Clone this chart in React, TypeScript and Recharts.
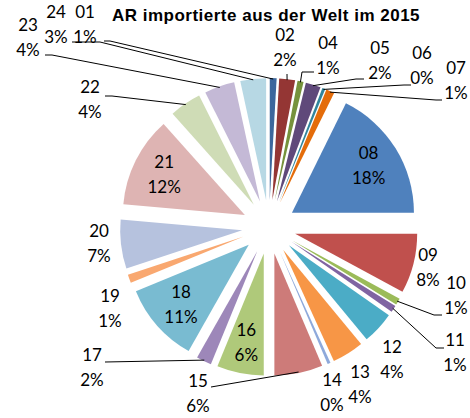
import React from 'react';
import { PieChart, Pie, Cell, Sector, Tooltip } from 'recharts';

const title = 'AR importierte aus der Welt im 2015';
const categories = ['01', '02', '04', '05', '06', '07', '08', '09', '10', '11', '12', '13', '14', '15', '16', '17', '18', '19', '20', '21', '22', '23', '24'];
const shares = [0.9, 2.1, 0.8, 2.0, 0.4, 1.1, 17.7, 7.9, 0.9, 0.9, 4.3, 4.2, 0.4, 6.4, 6.2, 2.0, 10.6, 1.1, 6.5, 12.0, 4.2, 4.0, 3.4];

const COLORS = [
  '#3C679D', '#943634', '#76923C', '#5F497A', '#31859C', '#E46C0A',
  '#4F81BD', '#C0504D', '#9BBB59', '#8064A2', '#4BACC6', '#F79646',
  '#8EA9DB', '#CD7B79', '#AFC97A', '#9D87B9', '#79BBD1', '#F9A870',
  '#B6C2DE', '#DEB4B3', '#CFDCB6', '#C4B9D6', '#B7D8E4',
];

const data = categories.map((name, i) => ({ name, value: shares[i] }));

const CX = 269;
const CY = 227;
const R = 122;
const EXPLODE = 27;
const RAD = Math.PI / 180;
const FONT = 'Lato, "Open Sans", sans-serif';

const INSIDE = new Set(['08', '16', '18', '21']);

// label block positions (center of first line) for labels placed outside the slices
const LABEL_POS: Record<string, [number, number]> = {
  '01': [85, 12], '24': [56, 12], '23': [28, 25], '22': [90, 87],
  '02': [285, 35], '04': [328, 43], '05': [380, 48], '06': [422, 53], '07': [456, 68],
  '09': [428, 255], '10': [456, 283], '11': [455, 340], '12': [392, 347], '13': [360, 372],
  '14': [332, 380], '15': [198, 381], '17': [92, 355], '19': [110, 296], '20': [99, 231],
};

// leader line points on the label side; the line ends on the slice edge
const LEADERS: Record<string, [number, number][]> = {
  '24': [[72, 42], [100, 42]],
  '01': [[104, 41], [110, 41]],
  '23': [[45, 55], [52, 55]],
  '22': [[105, 96], [112, 96]],
  '02': [[287, 74]],
  '04': [[314, 72], [302, 72]],
  '05': [[364, 79], [356, 79]],
  '06': [[411, 85], [404, 85]],
  '07': [[442, 100], [436, 100]],
  '10': [[442, 315], [434, 315]],
  '11': [[444, 348], [436, 348]],
  '15': [[211, 387]],
  '17': [[105, 362]],
};

const ExplodedSector = (props: any) => {
  const { cx, cy, midAngle, innerRadius, outerRadius, startAngle, endAngle, fill } = props;
  const ox = cx + EXPLODE * Math.cos(-midAngle * RAD);
  const oy = cy + EXPLODE * Math.sin(-midAngle * RAD);
  return (
    <Sector
      cx={ox}
      cy={oy}
      innerRadius={innerRadius}
      outerRadius={outerRadius}
      startAngle={startAngle}
      endAngle={endAngle}
      fill={fill}
      stroke="none"
    />
  );
};

const renderLabel = (p: any) => {
  const { cx, cy, midAngle, outerRadius, percent } = p;
  const name: string = p.payload?.name ?? p.name;
  const pct = `${Math.round(percent * 100)}%`;
  const ux = Math.cos(-midAngle * RAD);
  const uy = Math.sin(-midAngle * RAD);
  let lx: number;
  let ly: number;
  if (INSIDE.has(name)) {
    const rr = EXPLODE + outerRadius * 0.74;
    lx = cx + rr * ux;
    ly = cy + rr * uy - 12.5;
  } else {
    [lx, ly] = LABEL_POS[name];
  }
  const leader = LEADERS[name];
  const ax = cx + (outerRadius + EXPLODE - 1) * ux;
  const ay = cy + (outerRadius + EXPLODE - 1) * uy;
  return (
    <g key={`lbl-${name}`}>
      {leader && (
        <polyline
          points={[...leader, [ax, ay]].map((pt) => pt.join(',')).join(' ')}
          fill="none"
          stroke="#000"
          strokeWidth={1}
        />
      )}
      <text x={lx} y={ly + 6} textAnchor="middle" fontFamily={FONT} fontSize={17} fill="#000">
        {name}
      </text>
      <text x={lx} y={ly + 31} textAnchor="middle" fontFamily={FONT} fontSize={17} fill="#000">
        {pct}
      </text>
    </g>
  );
};

export default function App() {
  return (
    <div style={{ position: 'absolute', left: 0, top: 0, width: 470, height: 418, background: '#fff', overflow: 'hidden' }}>
      <PieChart width={470} height={418} margin={{ top: 0, right: 0, bottom: 0, left: 0 }}>
        <Pie
          data={data}
          dataKey="value"
          nameKey="name"
          cx={CX}
          cy={CY}
          outerRadius={R}
          startAngle={90}
          endAngle={-270}
          stroke="none"
          isAnimationActive={false}
          label={renderLabel}
          labelLine={false}
          shape={ExplodedSector}
          activeShape={ExplodedSector}
          inactiveShape={ExplodedSector}
        >
          {data.map((d, i) => (
            <Cell key={d.name} fill={COLORS[i]} />
          ))}
        </Pie>
        <Tooltip defaultIndex={0} content={() => null} cursor={false} />
      </PieChart>
      <div
        style={{
          position: 'absolute',
          left: 108,
          top: 6,
          width: 316,
          height: 20,
          lineHeight: '20px',
          background: '#fff',
          textAlign: 'center',
          fontFamily: '"Liberation Sans", Arial, sans-serif',
          fontWeight: 'bold',
          fontSize: 17,
          letterSpacing: 0.5,
          whiteSpace: 'nowrap',
        }}
      >
        {title}
      </div>
    </div>
  );
}
